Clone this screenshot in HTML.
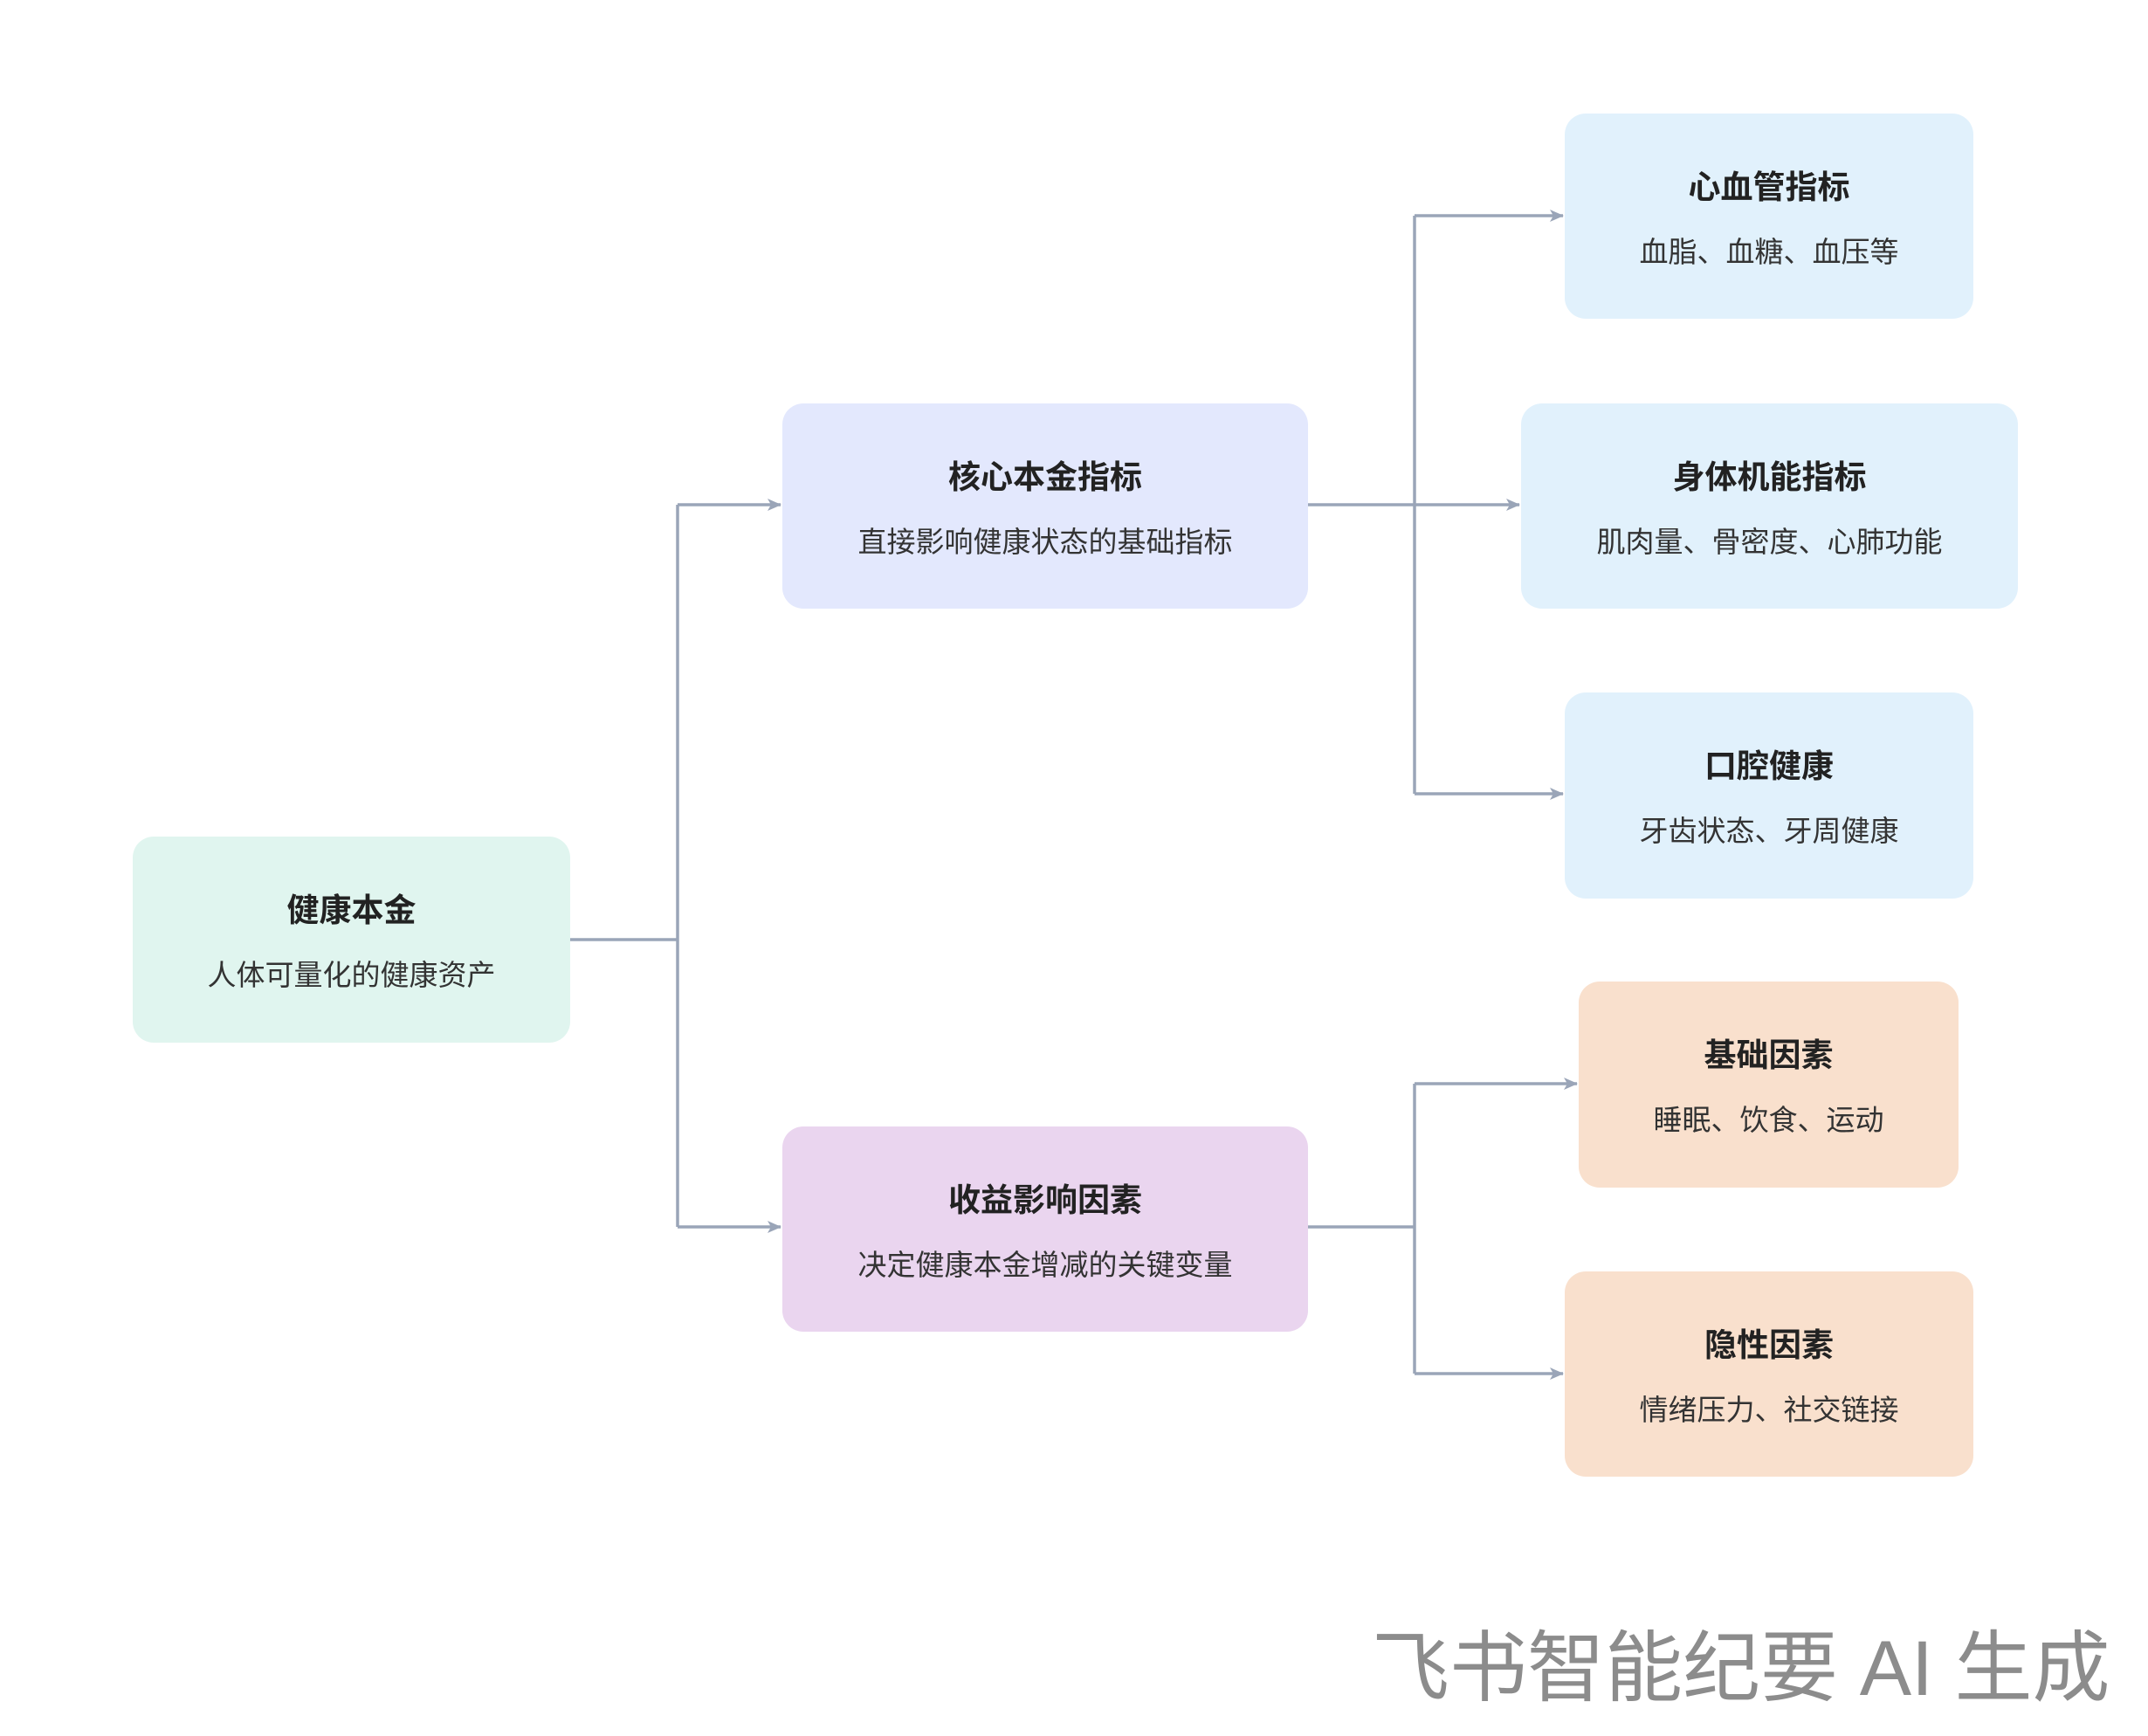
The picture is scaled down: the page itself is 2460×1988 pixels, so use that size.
<!DOCTYPE html>
<html><head><meta charset="utf-8"><style>
body{margin:0;width:2460px;height:1988px;background:#fff;position:relative;font-family:"Liberation Sans","Noto Sans CJK SC",sans-serif;overflow:hidden}
.b{position:absolute;border-radius:24px;text-align:center;color:#222}
.b .t{position:absolute;left:0;right:0;font-weight:bold;font-size:37px;top:54px}
.b .s{position:absolute;left:0;right:0;font-size:33px;color:#333;top:132px}
svg{position:absolute;left:0;top:0}
</style></head><body>
<svg width="2460" height="1988">
<defs><marker id="a" markerWidth="16" markerHeight="14" refX="15" refY="7" orient="auto" markerUnits="userSpaceOnUse"><path d="M0,0 L16,7 L0,14 L4,7z" fill="#9aa5b8"/></marker></defs>
<g stroke="#9aa5b8" stroke-width="3.5" fill="none">
<path d="M653,1076 H776"/>
<path d="M776,578 V1405"/>
<path d="M776,578 H894" marker-end="url(#a)"/>
<path d="M776,1405 H894" marker-end="url(#a)"/>
<path d="M1498,578 H1620"/>
<path d="M1620,247 V909"/>
<path d="M1620,247 H1790" marker-end="url(#a)"/>
<path d="M1620,578 H1740" marker-end="url(#a)"/>
<path d="M1620,909 H1790" marker-end="url(#a)"/>
<path d="M1498,1405 H1620"/>
<path d="M1620,1241 V1573"/>
<path d="M1620,1241 H1806" marker-end="url(#a)"/>
<path d="M1620,1573 H1790" marker-end="url(#a)"/>
</g></svg>
<div class="b" style="left:152px;top:958px;width:501px;height:236px;background:#e0f5ef"><div class="t">健康本金</div><div class="s">人体可量化的健康资产</div></div>
<div class="b" style="left:896px;top:462px;width:602px;height:235px;background:#e3e8fd"><div class="t">核心本金指标</div><div class="s">直接影响健康状态的基础指标</div></div>
<div class="b" style="left:896px;top:1290px;width:602px;height:235px;background:#ead5ef"><div class="t">收益影响因素</div><div class="s">决定健康本金增减的关键变量</div></div>
<div class="b" style="left:1792px;top:130px;width:468px;height:235px;background:#e1f1fc"><div class="t">心血管指标</div><div class="s">血脂、血糖、血压等</div></div>
<div class="b" style="left:1742px;top:462px;width:569px;height:235px;background:#e1f1fc"><div class="t">身体机能指标</div><div class="s">肌肉量、骨密度、心肺功能</div></div>
<div class="b" style="left:1792px;top:793px;width:468px;height:236px;background:#e1f1fc"><div class="t">口腔健康</div><div class="s">牙齿状态、牙周健康</div></div>
<div class="b" style="left:1808px;top:1124px;width:435px;height:236px;background:#f9e0cd"><div class="t">基础因素</div><div class="s">睡眠、饮食、运动</div></div>
<div class="b" style="left:1792px;top:1456px;width:468px;height:235px;background:#f9e0cd"><div class="t">隐性因素</div><div class="s">情绪压力、社交链接</div></div>
<div style="position:absolute;left:1571px;top:1862px;font-size:89px;color:#8c8c8c;white-space:nowrap;line-height:1.1">飞书智能纪要 AI 生成</div>
</body></html>
